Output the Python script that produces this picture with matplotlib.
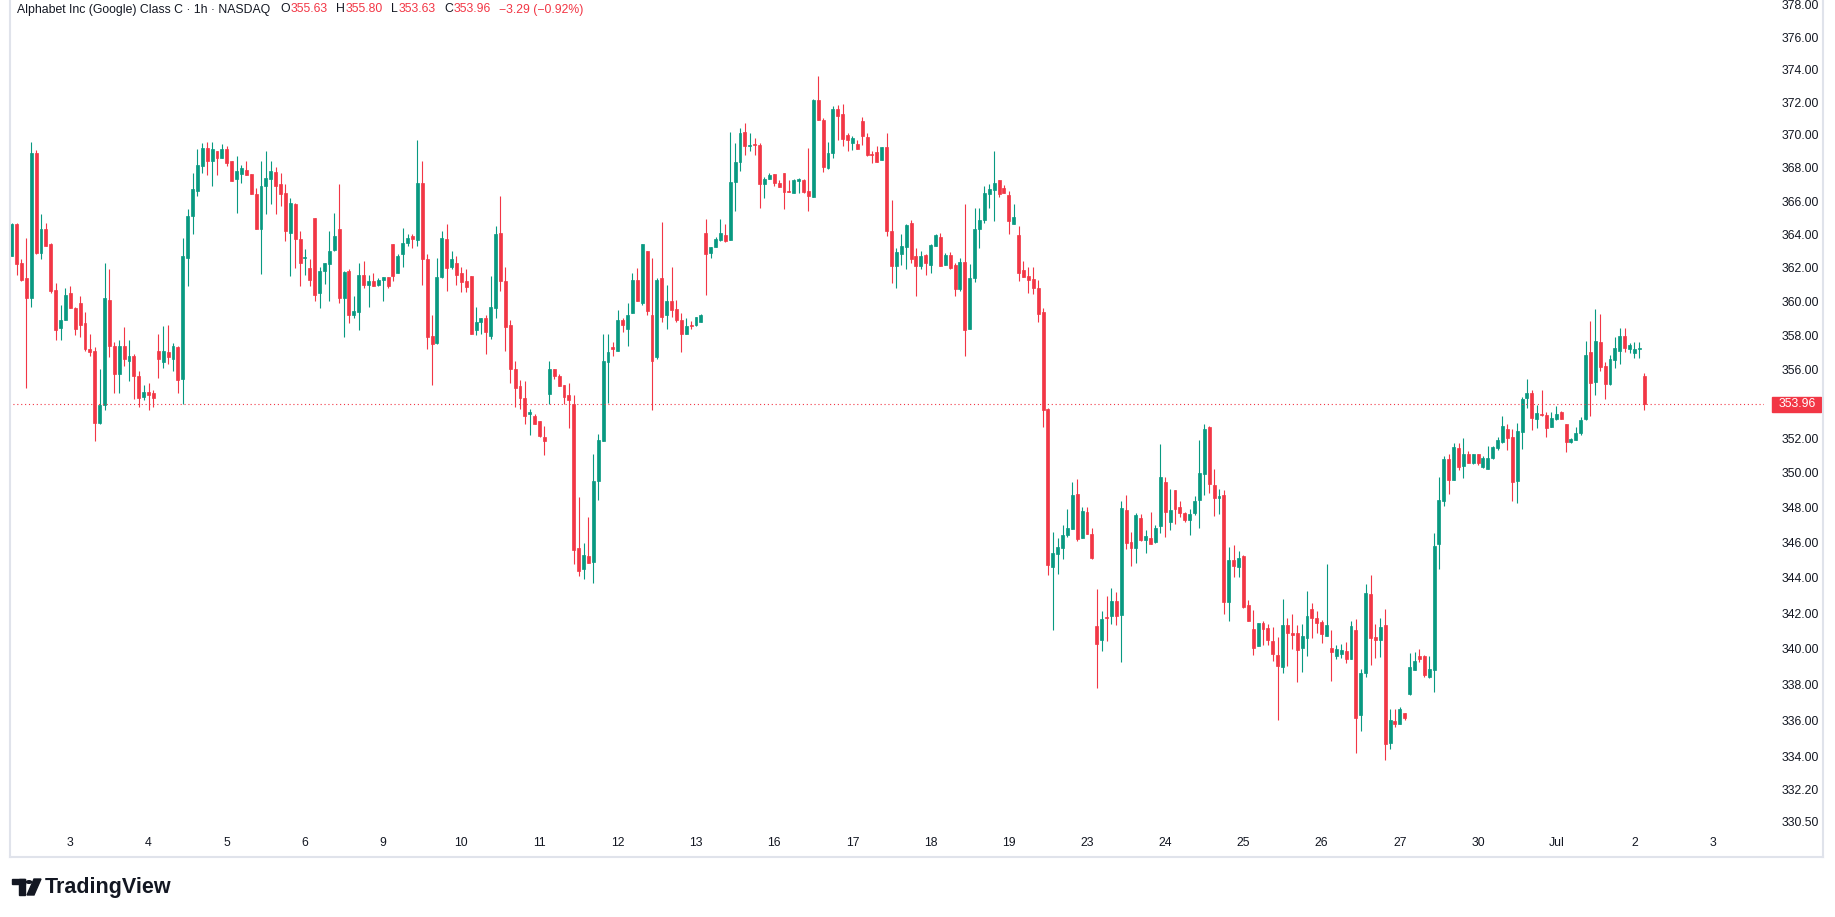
"""Hourly candlestick chart of Alphabet Class C, drawn in the TradingView look."""

import matplotlib

matplotlib.use("Agg")
import matplotlib.pyplot as plt
import numpy as np
from matplotlib import font_manager
from matplotlib.lines import Line2D
from matplotlib.patches import Circle, Polygon, Rectangle
from matplotlib.ticker import FixedFormatter, FixedLocator, NullLocator

TITLE = "Alphabet Inc (Google) Class C · 1h · NASDAQ"

opens = [
    362.70, 364.60, 362.30, 361.40, 360.20, 368.90, 362.90, 364.30, 363.40, 360.70,
    358.45, 358.90, 360.50, 359.60, 359.90, 358.70, 357.20, 357.10, 352.90, 353.90,
    360.10, 357.40, 355.75, 357.40, 356.50, 356.80, 355.60, 354.40, 354.70, 354.60,
    357.10, 356.45, 357.00, 356.60, 357.30, 355.45, 362.60, 365.10, 366.60, 368.10,
    369.20, 368.40, 369.00, 368.60, 369.15, 368.40, 367.30, 367.65, 367.90, 367.65,
    366.40, 364.30, 366.90, 367.30, 367.75, 367.00, 366.50, 364.10, 365.80, 363.70,
    362.60, 362.00, 365.00, 360.50, 361.80, 362.25, 363.06, 364.30, 360.20, 361.80,
    359.20, 359.40, 361.60, 361.00, 361.20, 361.00, 361.27, 361.45, 363.40, 361.70,
    362.80, 363.50, 363.90, 363.66, 367.10, 362.50, 357.96, 357.55, 361.45, 363.70,
    362.05, 362.30, 361.70, 361.20, 361.50, 358.30, 358.80, 359.00, 357.96, 359.60,
    364.10, 361.20, 358.60, 356.00, 355.00, 354.30, 353.40, 353.30, 353.00, 352.05,
    354.56, 356.00, 355.60, 355.10, 354.50, 354.00, 345.70, 344.50, 345.24, 344.90,
    349.50, 351.85, 356.45, 357.30, 357.10, 358.90, 358.40, 359.30, 361.30, 359.90,
    363.00, 359.20, 356.70, 361.40, 359.20, 360.00, 359.55, 358.90, 358.10, 358.60,
    358.60, 358.80, 364.10, 362.90, 363.26, 363.67, 363.96, 363.67, 367.17, 368.37,
    370.20, 369.34, 369.45, 369.40, 367.00, 367.30, 367.65, 367.10, 367.67, 366.60,
    366.50, 367.20, 367.24, 366.60, 366.26, 372.13, 370.90, 368.00, 368.90, 371.58,
    371.27, 370.00, 369.50, 369.45, 370.87, 369.90, 368.86, 368.96, 368.50, 369.24,
    364.20, 362.08, 362.85, 363.26, 364.68, 362.68, 362.08, 362.79, 362.19, 363.33,
    363.83, 362.15, 362.74, 362.17, 360.76, 362.35, 358.40, 361.40, 364.29, 364.88,
    366.45, 366.66, 367.25, 366.80, 366.36, 364.63, 363.94, 361.86, 361.52, 361.34,
    360.79, 359.36, 353.68, 344.60, 345.37, 345.66, 346.41, 346.76, 348.77, 346.23,
    347.75, 346.50, 341.30, 340.50, 341.79, 341.84, 342.68, 341.89, 347.86, 346.03,
    345.69, 347.40, 346.14, 346.26, 346.03, 346.94, 349.46, 347.17, 349.00, 348.03,
    347.69, 347.29, 347.69, 348.43, 349.92, 352.64, 349.29, 348.54, 348.71, 342.63,
    345.00, 344.60, 345.23, 342.46, 341.11, 340.17, 341.44, 341.16, 340.43, 339.66,
    339.00, 341.33, 340.89, 340.89, 340.06, 340.62, 342.23, 341.73, 341.50, 340.72,
    340.04, 339.60, 339.73, 339.87, 339.44, 341.05, 336.30, 338.67, 343.07, 340.66,
    340.50, 341.33, 334.76, 335.97, 335.80, 336.42, 337.47, 338.81, 339.60, 339.60,
    338.42, 338.81, 345.92, 348.37, 350.79, 349.58, 351.42, 350.38, 351.08, 350.56,
    351.08, 350.33, 350.21, 350.85, 351.42, 351.76, 352.52, 352.05, 349.52, 352.34,
    354.33, 354.62, 353.11, 353.40, 353.34, 352.64, 353.11, 353.51, 352.81, 351.76,
    351.88, 352.28, 353.11, 357.02, 355.26, 357.61, 356.20, 355.14, 356.55, 357.08,
    357.96, 357.20, 356.96, 357.20, 355.63,
]

highs = [
    364.70, 364.70, 362.50, 363.80, 369.60, 369.10, 365.20, 364.70, 363.50, 361.10,
    359.80, 360.80, 360.90, 359.70, 360.30, 359.40, 358.10, 357.30, 356.00, 362.30,
    361.90, 357.60, 357.70, 358.50, 357.70, 356.90, 355.90, 355.10, 355.20, 354.80,
    358.10, 358.55, 358.60, 357.55, 357.40, 363.80, 365.50, 367.70, 369.15, 369.50,
    369.60, 369.60, 369.00, 369.45, 369.30, 368.40, 368.70, 368.20, 368.40, 367.65,
    366.80, 368.40, 369.00, 368.40, 368.06, 367.70, 367.00, 366.20, 365.90, 364.20,
    363.10, 362.50, 365.00, 362.06, 362.30, 364.20, 365.30, 367.00, 361.80, 361.90,
    360.35, 362.30, 362.40, 361.60, 361.70, 361.40, 361.45, 361.45, 363.40, 362.80,
    364.40, 364.00, 364.00, 369.70, 368.40, 362.80, 359.20, 362.60, 364.20, 364.60,
    363.00, 362.70, 362.05, 361.90, 361.50, 359.70, 359.00, 359.20, 361.50, 364.50,
    366.30, 362.05, 358.90, 356.50, 355.40, 355.30, 353.70, 353.40, 353.00, 352.70,
    356.50, 356.00, 355.70, 355.10, 355.20, 354.50, 348.60, 346.00, 347.46, 351.10,
    352.25, 358.10, 358.10, 357.60, 359.50, 359.00, 359.90, 361.70, 362.00, 363.40,
    363.00, 362.60, 361.40, 364.75, 361.00, 362.05, 360.10, 359.30, 359.00, 358.84,
    359.10, 359.25, 364.90, 363.26, 363.84, 364.90, 364.60, 370.20, 369.50, 370.40,
    370.70, 370.10, 369.80, 369.50, 367.45, 367.70, 367.65, 367.24, 367.67, 367.24,
    367.30, 367.40, 367.30, 369.20, 372.20, 373.60, 371.06, 369.60, 371.74, 371.80,
    371.87, 370.10, 369.94, 369.70, 371.10, 370.10, 369.00, 369.30, 369.24, 370.10,
    366.06, 363.20, 364.00, 364.60, 364.86, 363.20, 363.00, 362.80, 363.44, 364.00,
    364.08, 362.90, 362.94, 362.27, 362.60, 365.85, 362.23, 365.58, 365.58, 366.90,
    367.05, 369.03, 367.25, 366.96, 366.63, 365.83, 364.50, 362.41, 362.05, 362.05,
    361.25, 359.60, 353.76, 346.60, 346.26, 347.00, 347.92, 349.46, 349.63, 348.00,
    348.03, 346.82, 343.37, 342.12, 342.97, 343.41, 343.19, 348.37, 348.71, 346.60,
    347.69, 347.63, 346.71, 347.74, 347.00, 351.65, 349.75, 349.06, 349.00, 348.37,
    347.74, 347.91, 348.66, 351.88, 352.81, 352.69, 350.21, 349.06, 349.00, 345.74,
    345.86, 345.52, 345.29, 342.74, 342.18, 341.44, 341.56, 341.39, 341.22, 340.66,
    342.80, 341.73, 341.95, 341.33, 341.39, 343.24, 342.57, 342.12, 341.61, 344.77,
    341.05, 340.20, 340.26, 340.38, 341.56, 341.67, 338.87, 343.64, 344.15, 341.39,
    341.73, 342.23, 336.64, 336.64, 336.75, 336.42, 339.77, 339.83, 340.00, 339.66,
    339.60, 346.54, 349.75, 350.96, 351.08, 351.71, 351.71, 351.99, 351.25, 351.08,
    351.08, 350.96, 351.54, 351.54, 352.05, 353.28, 352.81, 352.52, 352.87, 354.39,
    355.44, 354.80, 353.92, 354.80, 353.51, 353.51, 353.86, 353.57, 352.81, 351.99,
    352.63, 353.22, 357.67, 358.84, 359.55, 359.26, 356.45, 356.85, 357.90, 358.43,
    358.43, 357.55, 357.61, 357.61, 355.80,
]

lows = [
    362.70, 361.60, 361.20, 354.90, 359.70, 362.80, 362.50, 363.30, 360.50, 357.70,
    357.70, 358.90, 359.60, 358.00, 357.90, 357.10, 356.80, 351.80, 352.80, 353.60,
    356.70, 354.60, 354.60, 356.20, 355.30, 354.25, 353.80, 354.20, 353.60, 353.80,
    355.50, 356.10, 356.30, 355.90, 354.60, 354.00, 360.90, 364.00, 366.30, 367.70,
    367.60, 366.90, 367.60, 368.60, 368.10, 367.20, 365.30, 367.10, 367.60, 366.40,
    364.30, 361.65, 365.20, 365.80, 365.24, 365.70, 363.60, 361.50, 362.00, 360.90,
    361.60, 360.90, 360.05, 359.60, 361.05, 360.05, 363.00, 359.90, 357.90, 358.70,
    359.00, 358.30, 360.80, 359.70, 360.90, 360.90, 360.05, 360.80, 361.20, 361.70,
    362.06, 363.30, 363.20, 363.30, 361.00, 357.20, 355.10, 357.50, 361.40, 360.60,
    361.90, 361.00, 360.56, 360.56, 358.07, 358.00, 358.07, 356.90, 357.80, 359.00,
    360.60, 357.10, 355.20, 353.80, 353.70, 352.80, 352.20, 352.80, 352.05, 351.00,
    354.00, 355.45, 355.00, 354.00, 352.60, 344.80, 344.10, 343.90, 344.84, 343.70,
    348.40, 351.85, 354.05, 356.80, 357.10, 358.20, 357.35, 359.30, 360.00, 359.80,
    359.20, 353.60, 356.60, 358.80, 358.35, 359.10, 358.80, 357.00, 358.10, 358.39,
    358.55, 358.80, 360.40, 362.60, 363.26, 363.60, 363.55, 363.67, 365.40, 367.80,
    368.80, 369.00, 368.80, 365.60, 366.20, 367.30, 366.90, 366.86, 365.50, 366.56,
    366.50, 366.50, 366.50, 365.40, 366.26, 370.93, 367.74, 367.95, 368.60, 369.70,
    369.30, 369.00, 369.10, 369.17, 369.40, 368.70, 368.30, 368.37, 368.50, 363.90,
    361.10, 360.80, 362.15, 361.90, 362.30, 360.30, 361.90, 361.55, 361.70, 363.28,
    362.08, 362.15, 361.94, 360.30, 360.60, 356.80, 358.40, 361.13, 363.20, 364.68,
    365.58, 364.77, 366.26, 366.50, 364.04, 364.63, 361.20, 361.47, 360.50, 360.44,
    358.80, 352.66, 344.17, 341.04, 344.23, 345.04, 346.30, 346.76, 346.10, 346.23,
    346.46, 345.07, 337.80, 339.86, 340.44, 341.39, 341.33, 339.26, 345.63, 344.66,
    344.83, 346.09, 345.40, 345.92, 345.97, 346.54, 346.31, 346.71, 347.06, 347.46,
    347.17, 346.43, 347.57, 346.83, 348.71, 348.83, 347.51, 347.63, 341.95, 341.56,
    344.04, 344.04, 342.29, 341.56, 339.66, 340.17, 340.23, 340.23, 339.34, 336.03,
    338.67, 339.06, 340.00, 338.12, 338.73, 339.62, 340.62, 340.90, 340.34, 340.72,
    338.23, 339.44, 339.49, 339.21, 339.44, 334.23, 335.44, 338.44, 339.10, 339.49,
    339.55, 333.81, 334.42, 335.65, 335.80, 336.03, 337.42, 338.81, 339.26, 338.42,
    338.36, 337.59, 344.49, 348.09, 348.77, 349.58, 350.15, 349.69, 350.56, 350.50,
    350.44, 350.27, 350.21, 350.79, 351.31, 351.71, 351.31, 348.37, 348.26, 351.37,
    353.74, 352.46, 352.58, 353.28, 352.05, 352.64, 353.05, 353.11, 351.19, 351.71,
    351.88, 352.17, 353.05, 353.28, 354.50, 355.91, 354.27, 355.09, 356.08, 356.32,
    357.02, 356.96, 356.67, 356.67, 353.63,
]

closes = [
    364.60, 362.20, 361.30, 360.20, 368.90, 362.90, 364.30, 363.30, 360.60, 358.30,
    358.90, 360.40, 359.60, 358.40, 358.60, 357.20, 357.00, 352.90, 353.90, 360.20,
    357.40, 355.70, 357.40, 356.60, 356.80, 355.60, 354.30, 354.70, 354.50, 354.30,
    356.60, 357.10, 356.75, 357.40, 355.40, 362.70, 365.10, 366.70, 368.20, 369.20,
    368.40, 369.15, 368.60, 369.15, 368.30, 367.20, 367.80, 368.00, 367.60, 366.40,
    364.30, 366.90, 367.40, 367.80, 366.90, 366.40, 364.20, 365.90, 363.70, 362.30,
    362.65, 361.30, 360.40, 361.80, 362.30, 363.00, 363.90, 360.20, 361.75, 359.20,
    359.45, 361.60, 361.00, 361.20, 360.90, 361.30, 361.45, 360.90, 361.50, 362.70,
    363.50, 363.80, 363.70, 367.10, 362.50, 357.90, 357.50, 361.45, 363.80, 362.00,
    362.50, 361.60, 361.15, 360.85, 358.07, 358.80, 359.00, 358.20, 359.70, 364.00,
    361.20, 358.50, 356.00, 354.90, 354.30, 353.30, 353.50, 352.80, 352.10, 351.80,
    356.00, 355.60, 355.00, 354.40, 354.20, 345.60, 344.40, 345.30, 344.84, 349.50,
    351.90, 356.50, 357.00, 357.20, 358.90, 358.60, 359.20, 361.30, 360.00, 363.40,
    359.45, 356.50, 361.30, 359.10, 360.00, 359.50, 358.90, 358.10, 358.55, 358.55,
    359.10, 359.20, 362.85, 363.26, 363.70, 364.10, 363.60, 367.15, 368.37, 370.12,
    369.30, 369.40, 369.40, 367.00, 367.30, 367.60, 367.10, 366.86, 366.56, 366.56,
    367.24, 367.32, 366.55, 366.30, 372.13, 370.93, 368.07, 368.90, 371.60, 371.16,
    369.73, 369.67, 369.80, 369.17, 369.95, 368.80, 368.77, 368.37, 369.24, 364.18,
    362.08, 362.94, 363.28, 364.57, 362.54, 362.12, 362.68, 362.27, 363.37, 363.97,
    362.08, 362.74, 362.00, 360.72, 362.35, 358.33, 361.40, 364.33, 364.88, 366.47,
    366.75, 367.09, 366.45, 366.50, 364.77, 365.05, 361.70, 361.47, 361.29, 360.79,
    359.27, 353.64, 344.71, 345.41, 345.74, 346.41, 346.85, 348.71, 346.20, 347.77,
    346.46, 345.13, 340.29, 341.67, 341.75, 342.68, 341.84, 347.97, 345.97, 345.69,
    347.57, 346.14, 346.37, 345.92, 346.83, 349.75, 347.74, 347.86, 347.91, 347.69,
    347.29, 347.63, 348.37, 349.98, 352.52, 349.34, 348.54, 348.66, 342.63, 345.00,
    344.66, 345.12, 342.35, 341.56, 340.06, 341.44, 341.12, 340.50, 339.73, 339.06,
    341.33, 340.90, 340.78, 339.95, 340.72, 341.84, 341.73, 341.45, 340.84, 341.33,
    339.83, 339.98, 339.93, 339.44, 341.27, 336.14, 338.64, 343.13, 340.62, 340.50,
    341.22, 334.70, 336.03, 335.80, 336.64, 336.14, 338.98, 339.32, 339.43, 338.53,
    338.87, 345.80, 348.43, 350.79, 349.58, 351.48, 350.33, 351.08, 350.56, 351.08,
    350.56, 350.85, 350.85, 351.48, 351.88, 352.69, 351.99, 349.46, 352.40, 354.27,
    354.62, 353.16, 353.46, 353.34, 352.58, 353.16, 353.40, 353.11, 351.76, 351.94,
    352.28, 353.05, 356.85, 355.20, 357.67, 356.14, 355.14, 356.63, 357.26, 357.96,
    357.26, 357.43, 357.20, 357.25, 353.96,
]

day_labels = ["3", "4", "5", "6", "9", "10", "11", "12", "13", "16", "17",
              "18", "19", "23", "24", "25", "26", "27", "30", "Jul", "2", "3"]

price_ticks = [378, 376, 374, 372, 370, 368, 366, 364, 362, 360, 358, 356,
               352, 350, 348, 346, 344, 342, 340, 338, 336, 334, 332.2, 330.5]

GREEN = "#089981"
RED = "#f23645"
TEXT = "#131722"
BORDER = "#e0e3eb"

W, H = 1835, 917
FIRST_DAY_BAR = 12
BARS_PER_DAY = 16

# TradingView's UI font is narrow; use a narrow face when one is installed
_installed = {f.name for f in font_manager.fontManager.ttflist}
if "Liberation Sans Narrow" in _installed:
    UI_FONT, UI_SIZE = "Liberation Sans Narrow", 10.0
else:
    UI_FONT, UI_SIZE = "Liberation Sans", 8.8


def fx(px):
    return px / W


def fy(py):
    return 1 - py / H


def draw_header(fig, o, h, l, c, prev_close):
    renderer = fig.canvas.get_renderer()
    change = c - prev_close
    pct = change / prev_close * 100
    sign = "−" if change < 0 else "+"
    pieces = [
        (TITLE, TEXT, 10),
        ("O", TEXT, 1), (f"{o:.2f}", RED, 8),
        ("H", TEXT, 1), (f"{h:.2f}", RED, 8),
        ("L", TEXT, 1), (f"{l:.2f}", RED, 8),
        ("C", TEXT, 1), (f"{c:.2f}", RED, 8),
        (f"{sign}{abs(change):.2f} ({sign}{abs(pct):.2f}%)", RED, 0),
    ]
    x = 17
    for text, color, gap in pieces:
        t = fig.text(fx(x), fy(9.5), text, color=color, fontsize=UI_SIZE,
                     family=[UI_FONT, "DejaVu Sans"], ha="left", va="center")
        x += t.get_window_extent(renderer).width + gap


def draw_logo(fig):
    blk = "#131722"
    fig.add_artist(Rectangle((fx(12), fy(884)), fx(13) - fx(0), fy(879) - fy(884),
                             transform=fig.transFigure, color=blk))
    fig.add_artist(Rectangle((fx(19), fy(895)), fx(6) - fx(0), fy(879) - fy(895),
                             transform=fig.transFigure, color=blk))
    fig.add_artist(Circle((fx(29), fy(882)), 2.6 / W, transform=fig.transFigure,
                          color=blk))
    fig.add_artist(Polygon([(fx(34), fy(879)), (fx(41), fy(879)),
                            (fx(34), fy(895)), (fx(27), fy(895))],
                           closed=True, transform=fig.transFigure, color=blk))
    fig.text(fx(45), fy(887), "TradingView", fontsize=15.5, fontweight="bold",
             color=blk, ha="left", va="center")


def main():
    plt.rcParams["font.family"] = ["Liberation Sans", "DejaVu Sans"]

    o = np.array(opens)
    h = np.array(highs)
    l = np.array(lows)
    c = np.array(closes)
    x = np.arange(len(o))
    colors = np.where(c >= o, GREEN, RED)

    fig = plt.figure(figsize=(W / 100, H / 100), dpi=100)
    fig.patch.set_facecolor("white")
    ax = fig.add_axes([fx(9), fy(828), fx(1764) - fx(9), fy(0) - fy(828)])

    ax.vlines(x, l, h, colors=colors, linewidth=0.8)
    ax.bar(x, np.abs(c - o), bottom=np.minimum(o, c), width=0.6,
           color=colors, edgecolor=colors, linewidth=0.5)

    ax.set_yscale("log")
    ax.set_ylim(330.12, 378.31)
    ax.set_xlim(-0.55, 358.5)

    ax.axhline(c[-1], color=RED, linewidth=0.8, linestyle=(0, (1, 2.5)))

    for side in ax.spines.values():
        side.set_visible(False)

    shown = [p for p in price_ticks if abs(p - c[-1]) > 1.0]
    ax.yaxis.tick_right()
    ax.yaxis.set_major_locator(FixedLocator(shown))
    ax.yaxis.set_major_formatter(FixedFormatter([f"{p:.2f}" for p in shown]))
    ax.yaxis.set_minor_locator(NullLocator())
    ax.tick_params(axis="y", length=0, pad=12.5, labelsize=UI_SIZE, labelcolor=TEXT)

    ax.set_xticks([FIRST_DAY_BAR + BARS_PER_DAY * k for k in range(len(day_labels))])
    ax.set_xticklabels(day_labels)
    ax.tick_params(axis="x", length=0, pad=6.5, labelsize=UI_SIZE, labelcolor=TEXT)
    for lab in ax.get_xticklabels() + ax.get_yticklabels():
        lab.set_family([UI_FONT, "DejaVu Sans"])

    # last-price tag on the price scale
    y_disp = ax.transData.transform((0, c[-1]))[1]
    y_mid = H - y_disp
    fig.add_artist(Rectangle((fx(1772), fy(y_mid + 7.5)), fx(49) - fx(0), 15 / H,
                             transform=fig.transFigure, color=RED))
    fig.text(fx(1797), fy(y_mid), f"{c[-1]:.2f}", color="white", fontsize=UI_SIZE,
             family=[UI_FONT, "DejaVu Sans"], ha="center", va="center")

    # widget frame
    for xs, ys in [((9.5, 9.5), (0, 857)), ((1823, 1823), (0, 857)),
                   ((9.5, 1823), (857, 857))]:
        fig.add_artist(Line2D([fx(v) for v in xs], [fy(v) for v in ys],
                              transform=fig.transFigure, color=BORDER, linewidth=1.5))

    draw_header(fig, o[-1], h[-1], l[-1], c[-1], c[-2])
    draw_logo(fig)

    fig.savefig("out.png", dpi=100, facecolor="white")
    plt.close(fig)


if __name__ == "__main__":
    main()
